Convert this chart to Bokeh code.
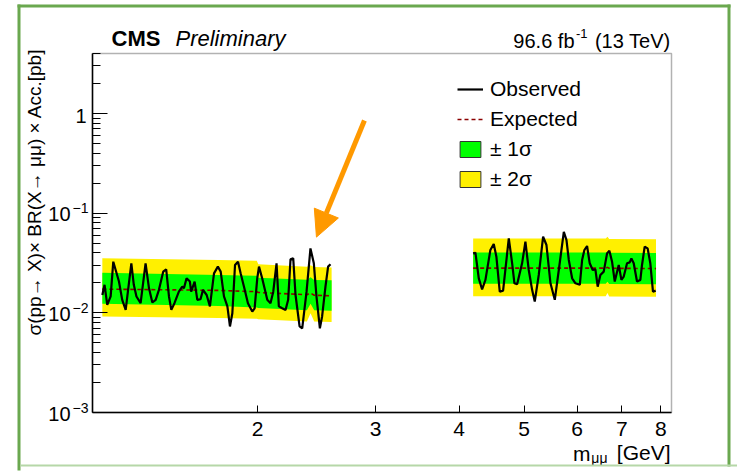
import math
from bokeh.plotting import figure
from bokeh.models import (Range1d, FixedTicker, CustomJSTickFormatter, PrintfTickFormatter,
                          Label, Arrow, NormalHead, Legend, LegendItem, BoxAnnotation)
from bokeh.embed import file_html
from bokeh.resources import INLINE

# ---------------- data ----------------
obs_mass_low = [1.173, 1.182, 1.193, 1.207, 1.218, 1.242, 1.256, 1.271, 1.296, 1.307,
                1.319, 1.338, 1.361, 1.377, 1.393, 1.409, 1.425, 1.446, 1.461, 1.475,
                1.487, 1.503, 1.526, 1.544, 1.553, 1.567, 1.585, 1.592, 1.611, 1.626,
                1.644, 1.658, 1.679, 1.698, 1.722, 1.745, 1.762, 1.782, 1.803, 1.819,
                1.834, 1.851, 1.870, 1.887, 1.909, 1.935, 1.964, 1.980, 1.998, 2.010,
                2.032, 2.068, 2.091, 2.111, 2.135, 2.152, 2.177, 2.202, 2.222, 2.240,
                2.261, 2.279, 2.311, 2.332, 2.367, 2.399, 2.427, 2.449, 2.478, 2.497,
                2.526, 2.549, 2.570]
obs_limit_low = [0.0151, 0.0191, 0.0120, 0.0146, 0.0326, 0.0206, 0.0135, 0.0107, 0.0314, 0.0191,
                 0.0146, 0.0125, 0.0314, 0.0177, 0.0127, 0.0135, 0.0170, 0.0259, 0.0273, 0.0146,
                 0.0107, 0.0125, 0.0163, 0.0183, 0.0177, 0.0222, 0.0206, 0.0163, 0.0206, 0.0135,
                 0.0137, 0.0170, 0.0151, 0.0116, 0.0249, 0.0291, 0.0259, 0.0146, 0.0116, 0.0073,
                 0.0099, 0.0302, 0.0326, 0.0249, 0.0183, 0.0125, 0.0103, 0.0111, 0.0222, 0.0291,
                 0.0222, 0.0135, 0.0125, 0.0163, 0.0314, 0.0116, 0.0111, 0.0107, 0.0135, 0.0344,
                 0.0352, 0.0151, 0.0073, 0.0070, 0.0163, 0.0443, 0.0314, 0.0146, 0.0070, 0.0092,
                 0.0183, 0.0291, 0.0307]

obs_mass_high = [4.197, 4.230, 4.279, 4.328, 4.378, 4.453, 4.505, 4.546, 4.599, 4.652,
                 4.744, 4.799, 4.837, 4.882, 4.966, 5.023, 5.081, 5.140, 5.187, 5.259,
                 5.338, 5.400, 5.475, 5.557, 5.634, 5.732, 5.785, 5.831, 5.898, 5.966,
                 6.056, 6.104, 6.152, 6.209, 6.266, 6.330, 6.389, 6.440, 6.500, 6.575,
                 6.651, 6.704, 6.766, 6.829, 6.884, 6.923, 6.987, 7.043, 7.124, 7.189,
                 7.231, 7.289, 7.372, 7.457, 7.500, 7.569, 7.646, 7.717, 7.788, 7.860]
obs_limit_high = [0.0395, 0.0401, 0.0222, 0.0172, 0.0214, 0.0427, 0.0490, 0.0366, 0.0163, 0.0167,
                  0.0558, 0.0314, 0.0198, 0.0194, 0.0314, 0.0517, 0.0269, 0.0170, 0.0130, 0.0240,
                  0.0580, 0.0479, 0.0198, 0.0135, 0.0269, 0.0650, 0.0537, 0.0339, 0.0222, 0.0198,
                  0.0191, 0.0339, 0.0427, 0.0468, 0.0314, 0.0269, 0.0273, 0.0183, 0.0240, 0.0259,
                  0.0395, 0.0420, 0.0326, 0.0206, 0.0259, 0.0302, 0.0214, 0.0231, 0.0314, 0.0321,
                  0.0352, 0.0314, 0.0206, 0.0214, 0.0302, 0.0461, 0.0443, 0.0314, 0.0163, 0.0167]

band_mass_low = [1.173, 1.75, 1.995, 2.005, 2.37, 2.40, 2.43, 2.58]
exp_low = [0.0173, 0.0168, 0.0163, 0.0160, 0.0152, 0.0158, 0.0150, 0.0148]
p1_low = [0.0253, 0.0240, 0.0235, 0.0225, 0.0215, 0.0228, 0.0214, 0.0212]
m1_low = [0.0123, 0.0117, 0.0113, 0.0112, 0.0106, 0.0123, 0.0106, 0.0105]
p2_low = [0.0352, 0.0339, 0.0333, 0.0307, 0.0290, 0.0300, 0.0288, 0.0285]
m2_low = [0.0092, 0.0089, 0.0087, 0.0086, 0.0082, 0.0099, 0.0082, 0.0081]

band_mass_high = [4.197, 6.62, 6.66, 6.70, 7.87]
exp_high = [0.0281, 0.0281, 0.0286, 0.0280, 0.0278]
p1_high = [0.0402, 0.0402, 0.0410, 0.0400, 0.0398]
m1_high = [0.0196, 0.0196, 0.0205, 0.0195, 0.0194]
p2_high = [0.0556, 0.0556, 0.0580, 0.0550, 0.0548]
m2_high = [0.0147, 0.0147, 0.0158, 0.0146, 0.0145]

x_ticks = [2, 3, 4, 5, 6, 7, 8]
y_decades = [1e-3, 1e-2, 1e-1, 1.0]
y_exponents = ["\u22123", "\u22122", "\u22121", ""]

XMIN, XMAX = 1.134, 8.3
YMIN, YMAX = 1e-3, 4.0
ARROW_START = (2.888, 0.851)
ARROW_END = (2.449, 0.0575)

# ---------------- layout: the frame fills the canvas, the box is drawn inside ----------------
W, H = 737, 473
FL, FR, FT, FB = 92, 671, 53, 412          # pixel box of the plotting area
LX0, LX1 = math.log10(XMIN), math.log10(XMAX)
LY0, LY1 = math.log10(YMIN), math.log10(YMAX)
SX = (FR - FL) / (LX1 - LX0)
SY = (FB - FT) / (LY1 - LY0)


def px_x(px):
    return 10 ** (LX0 + (px - FL) / SX)


def px_y(py):
    return 10 ** (LY0 + (FB - py) / SY)


FONT = "Liberation Sans"
TXT = "black"
GREEN = "#00ff00"
YELLOW = "#fff000"
EXP_COLOR = "#8b0000"

p = figure(width=W, height=H, x_axis_type="log", y_axis_type="log",
           x_range=Range1d(px_x(0), px_x(W)), y_range=Range1d(px_y(H), px_y(0)),
           output_backend="svg", toolbar_location=None,
           min_border_left=0, min_border_right=0, min_border_top=0, min_border_bottom=0)
p.background_fill_color = "white"
p.border_fill_color = "white"
p.grid.visible = False
p.outline_line_color = None

# x axis, pinned to the bottom of the box
p.xaxis.fixed_location = YMIN
p.xaxis.bounds = (XMIN, XMAX)
p.xaxis.ticker = FixedTicker(ticks=x_ticks, minor_ticks=[])
p.xaxis.formatter = PrintfTickFormatter(format="%d")
p.xaxis.major_tick_in = 7
p.xaxis.major_tick_out = 0
p.xaxis.minor_tick_in = 0
p.xaxis.minor_tick_out = 0
p.xaxis.major_label_standoff = 9
p.xaxis.major_label_text_font = FONT
p.xaxis.major_label_text_font_size = "21px"
p.xaxis.major_label_text_color = TXT
p.xaxis.axis_line_width = 1.5
p.xaxis.axis_line_color = "black"
p.xaxis.major_tick_line_color = "black"

# y axis, pinned to the left of the box
minor_y = [m * 10.0 ** e for e in range(-3, 1) for m in range(2, 10) if m * 10.0 ** e <= YMAX]
p.yaxis.fixed_location = XMIN
p.yaxis.bounds = (YMIN, YMAX)
p.yaxis.ticker = FixedTicker(ticks=y_decades, minor_ticks=minor_y)
p.yaxis.formatter = CustomJSTickFormatter(code="return ''")
p.yaxis.major_tick_in = 15
p.yaxis.major_tick_out = 0
p.yaxis.minor_tick_in = 8
p.yaxis.minor_tick_out = 0
p.yaxis.axis_line_width = 1.5
p.yaxis.axis_line_color = "black"
p.yaxis.major_tick_line_color = "black"
p.yaxis.minor_tick_line_color = "black"

# box outline
p.add_layout(BoxAnnotation(left=XMIN, right=XMAX, bottom=YMIN, top=YMAX,
                           fill_alpha=0, line_color="black", line_width=1.5))

# bands
p.varea(x=band_mass_low, y1=m2_low, y2=p2_low, fill_color=YELLOW)
p.varea(x=band_mass_low, y1=m1_low, y2=p1_low, fill_color=GREEN)
p.varea(x=band_mass_high, y1=m2_high, y2=p2_high, fill_color=YELLOW)
p.varea(x=band_mass_high, y1=m1_high, y2=p1_high, fill_color=GREEN)

r_exp = p.line(band_mass_low, exp_low, line_color=EXP_COLOR, line_width=1.6, line_dash="4 3")
p.line(band_mass_high, exp_high, line_color=EXP_COLOR, line_width=1.6, line_dash="4 3")
r_obs = p.line(obs_mass_low, obs_limit_low, line_color="black", line_width=2.2)
p.line(obs_mass_high, obs_limit_high, line_color="black", line_width=2.2)

# legend swatches (one invisible NaN quad each, so that a box with outline is drawn)
nan = float("nan")
r_g = p.quad(left=[nan], right=[nan], top=[nan], bottom=[nan], fill_color=GREEN,
             line_color="#333333", line_width=1)
r_y = p.quad(left=[nan], right=[nan], top=[nan], bottom=[nan], fill_color=YELLOW,
             line_color="#333333", line_width=1)
legend = Legend(items=[LegendItem(label="Observed", renderers=[r_obs]),
                       LegendItem(label="Expected", renderers=[r_exp]),
                       LegendItem(label="\u00b1 1\u03c3", renderers=[r_g]),
                       LegendItem(label="\u00b1 2\u03c3", renderers=[r_y])],
                location=(457, H - 191), glyph_width=26, glyph_height=20, label_height=22,
                label_standoff=7, spacing=6, padding=0, margin=0,
                border_line_color=None, background_fill_alpha=0,
                label_text_font=FONT, label_text_font_size="21px", label_text_color=TXT)
p.add_layout(legend)

# arrow
p.add_layout(Arrow(x_start=ARROW_START[0], y_start=ARROW_START[1],
                   x_end=ARROW_END[0], y_end=ARROW_END[1],
                   line_color="#ff9900", line_width=5,
                   end=NormalHead(size=26, fill_color="#ff9900", line_color="#ff9900")))


def add_text(**kw):
    kw.setdefault("text_font", FONT)
    kw.setdefault("text_color", TXT)
    kw.setdefault("text_baseline", "middle")
    p.add_layout(Label(**kw))


# y tick labels (10 with superscript exponent)
for v, ex in zip(y_decades, y_exponents):
    if ex:
        add_text(x=XMIN, y=v, x_offset=-22, y_offset=-1, text="10", text_align="right",
                 text_font_size="20px")
        add_text(x=XMIN, y=v, x_offset=-20, y_offset=5, text=ex, text_align="left",
                 text_font_size="14px")
    else:
        add_text(x=XMIN, y=v, x_offset=-6, y_offset=-2, text="1", text_align="right",
                 text_font_size="20px")

# y axis title
add_text(x=px_x(34), y=px_y(48), angle=math.pi / 2,
         text="\u03c3(pp\u2192 X)\u00d7 BR(X\u2192 \u03bc\u03bc) \u00d7 Acc.[pb]",
         text_align="right", text_font_size="19px")

# x axis title
add_text(x=px_x(670), y=px_y(452), text="[GeV]", text_align="right", text_font_size="21px")
add_text(x=px_x(607), y=px_y(457), text="\u03bc\u03bc", text_align="right", text_font_size="14px")
add_text(x=px_x(590), y=px_y(453), text="m", text_align="right", text_font_size="21px")

# header
add_text(x=px_x(111), y=px_y(38), text="CMS", text_align="left", text_font_size="22px",
         text_font_style="bold")
add_text(x=px_x(175), y=px_y(38), text="Preliminary", text_align="left", text_font_size="22px",
         text_font_style="italic")
add_text(x=px_x(670), y=px_y(40), text="(13 TeV)", text_align="right", text_font_size="20px")
add_text(x=px_x(587), y=px_y(33), text="-1", text_align="right", text_font_size="13px")
add_text(x=px_x(574), y=px_y(40), text="96.6 fb", text_align="right", text_font_size="20px")

# green page border
DARK_G = "#6aa84f"
LIGHT_G = "#b6d7a8"
for (l, r, t, b, c) in [(17, 730, 4, 7, DARK_G), (17, 20, 4, 470, DARK_G),
                        (727, 730, 4, 466, DARK_G), (20, W, 464, 466, LIGHT_G)]:
    p.add_layout(BoxAnnotation(left=px_x(l), right=px_x(r), top=px_y(t), bottom=px_y(b),
                               fill_color=c, fill_alpha=1, line_color=None))

open("out.html", "w").write(file_html(p, INLINE))
